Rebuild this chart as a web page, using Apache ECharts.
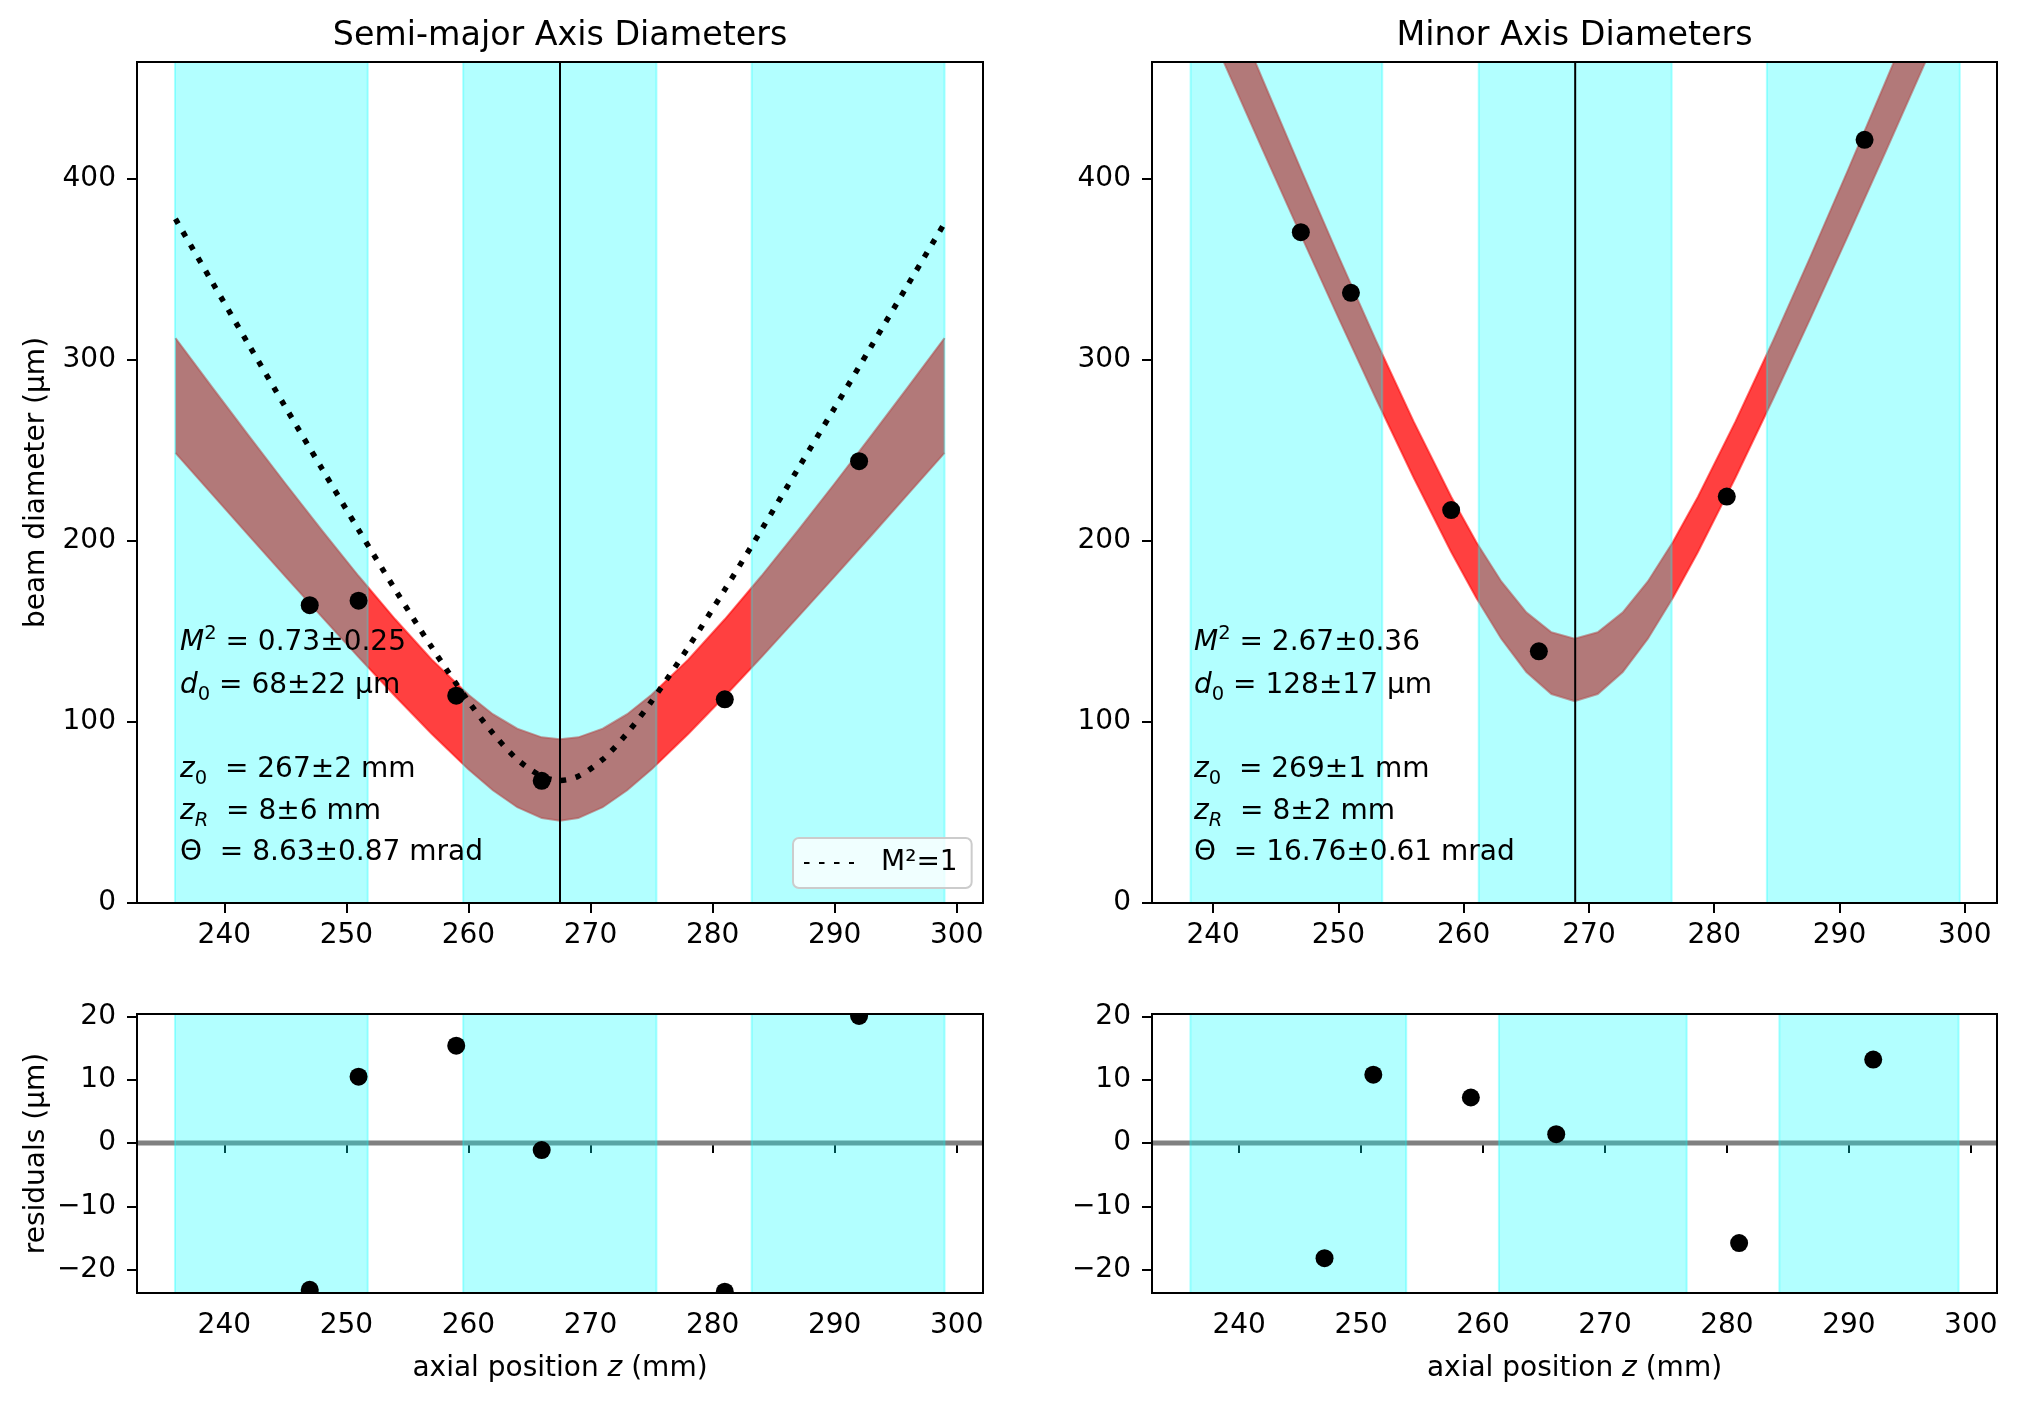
<!DOCTYPE html>
<html>
<head>
<meta charset="utf-8">
<script src="https://cdn.jsdelivr.net/npm/echarts@6/dist/echarts.min.js"></script>
<style>
  html, body { margin: 0; padding: 0; background: #fff; }
  #main { width: 2020px; height: 1405px; }
</style>
</head>
<body>
<div id="main"></div>
<script>
var FONT = 'DejaVu Sans';
var FS = 28;

// measured points: axial position (mm) and beam diameters (µm)
var zMeas = [247, 251, 259, 266, 281, 292];
var dMajor = [164.5, 167, 114.5, 67.5, 112.5, 244];
var dMinor = [370.5, 337, 217, 139, 224.5, 421.5];
var residMajor = [-23.2, 10.5, 15.4, -1.1, -23.5, 20.1];
var residMinor = [-18.2, 10.8, 7.2, 1.4, -15.8, 13.2];

// fitted band (lower / upper edge)
var zFitMajor = [236, 239, 242, 245, 248, 251, 254, 257, 260, 262, 264, 266, 267.5, 269, 271, 273, 275, 278, 281, 284, 287, 290, 293, 296, 299];
var fitMajorHi = [312.0, 284.9, 258.1, 231.7, 205.8, 180.6, 156.7, 134.4, 115.0, 104.3, 96.3, 91.5, 90.4, 91.5, 96.3, 104.3, 115.0, 134.4, 156.7, 180.6, 205.8, 231.7, 258.1, 284.9, 312.0];
var fitMajorLo = [248.6, 225.8, 203.0, 180.4, 158.0, 135.8, 114.2, 93.3, 73.8, 62.3, 52.9, 46.9, 45.4, 46.9, 52.9, 62.3, 73.8, 93.3, 114.2, 135.8, 158.0, 180.4, 203.0, 225.8, 248.6];
var idealMajor = [377.8, 343.0, 308.4, 274.0, 239.9, 206.1, 173.1, 141.2, 111.4, 93.8, 79.3, 70.0, 67.7, 70.0, 79.3, 93.8, 111.4, 141.2, 173.1, 206.1, 239.9, 273.5, 307.5, 341.5, 375.5];

var zFitMinor = [238, 241, 244, 247, 250, 253, 256, 259, 261, 263, 265, 267, 268.85, 270.7, 272.7, 274.7, 276.7, 278.7, 281.7, 284.7, 287.7, 290.7, 293.7, 296.7, 299.7];
var fitMinorHi = [553.3, 503.4, 454.0, 405.2, 357.3, 310.6, 266.0, 224.4, 199.4, 177.6, 160.5, 149.5, 146.0, 149.5, 160.5, 177.6, 199.4, 224.4, 266.0, 310.6, 357.3, 405.2, 454.0, 503.4, 553.3];
var fitMinorLo = [509.1, 462.1, 415.3, 369.0, 323.3, 278.5, 235.0, 193.9, 168.6, 146.0, 127.6, 115.4, 111.5, 115.4, 127.6, 146.0, 168.6, 193.9, 235.0, 278.5, 323.3, 369.0, 415.3, 462.1, 509.1];

// beam waist positions and Rayleigh zones (mm)
var z0Major = 267.5;
var z0Minor = 268.9;
var zonesMajor = [[235.96, 251.75], [259.57, 275.4], [283.2, 299.0]];
var zonesMinor = [[238.2, 253.5], [261.2, 276.6], [284.2, 299.6]];
var zonesResidMajor = [[235.96, 251.75], [259.57, 275.4], [283.2, 299.0]];
var zonesResidMinor = [[236.0, 253.7], [261.3, 276.7], [284.3, 299.0]];

// ticks
var zTicks = [240, 250, 260, 270, 280, 290, 300];
var dTicks = [0, 100, 200, 300, 400];
var rTicks = [-20, -10, 0, 10, 20];

var statsMajor = ['{i|M}{sup|2} = 0.73±0.25', '{i|d}{sub|0} = 68±22 µm', '{i|z}{sub|0}  = 267±2 mm', '{i|z}{subi|R}  = 8±6 mm', 'Θ  = 8.63±0.87 mrad'];
var statsMinor = ['{i|M}{sup|2} = 2.67±0.36', '{i|d}{sub|0} = 128±17 µm', '{i|z}{sub|0}  = 269±1 mm', '{i|z}{subi|R}  = 8±2 mm', 'Θ  = 16.76±0.61 mrad'];

// layout
var grids = [
  { left: 137, top: 62, width: 846, height: 841 },
  { left: 1152, top: 62, width: 845, height: 841 },
  { left: 137, top: 1014, width: 846, height: 279 },
  { left: 1152, top: 1014, width: 845, height: 279 }
];
var xRanges = [[232.85, 302.15], [235.12, 302.57], [232.85, 302.15], [232.85, 302.15]];
var dRange = [0, 464.5];
var rRange = [-23.7, 20.4];

function minus(v) { return String(v).replace('-', '\u2212'); }

function xAxisOpt(i, named) {
  var ax = {
    gridIndex: i, type: 'value', min: xRanges[i][0], max: xRanges[i][1],
    axisLine: { show: false },
    splitLine: { show: false },
    axisTick: { show: true, inside: false, length: 10, lineStyle: { color: '#000', width: 2 }, customValues: zTicks },
    axisLabel: { customValues: zTicks, fontSize: FS, fontFamily: FONT, color: '#000', margin: 19 }
  };
  if (named) {
    ax.name = 'axial position {i|z} (mm)';
    ax.nameLocation = 'middle';
    ax.nameGap = 62;
    ax.nameTextStyle = { fontSize: FS, fontFamily: FONT, color: '#000',
      rich: { i: { fontSize: FS, fontFamily: FONT, fontStyle: 'italic', color: '#000' } } };
  }
  return ax;
}

function yAxisOpt(i, ticks, range, name) {
  var ax = {
    gridIndex: i, type: 'value', min: range[0], max: range[1],
    axisLine: { show: false },
    splitLine: { show: false },
    axisTick: { show: true, inside: false, length: 10, lineStyle: { color: '#000', width: 2 }, customValues: ticks },
    axisLabel: { customValues: ticks, fontSize: FS, fontFamily: FONT, color: '#000', margin: 21, formatter: minus }
  };
  if (name) {
    ax.name = name;
    ax.nameLocation = 'middle';
    ax.nameGap = 86;
    ax.nameTextStyle = { fontSize: FS, fontFamily: FONT, color: '#000' };
  }
  return ax;
}

// fit uncertainty band drawn as one polygon through the axis scales
function bandSeries(i, zs, lo, hi) {
  return {
    type: 'custom', xAxisIndex: i, yAxisIndex: i, z: 2, silent: true, clip: true,
    data: [[zs[0], lo[0]]],
    renderItem: function (params, api) {
      var loPts = zs.map(function (z, k) { return api.coord([z, lo[k]]); });
      var hiPts = zs.map(function (z, k) { return api.coord([z, hi[k]]); });
      var edge = { fill: 'none', stroke: 'rgba(255,0,0,0.55)', lineWidth: 2 };
      return { type: 'group', children: [
        { type: 'polygon', shape: { points: loPts.concat(hiPts.slice().reverse()) },
          style: { fill: 'rgba(255,0,0,0.75)' } },
        { type: 'polyline', shape: { points: loPts }, style: edge },
        { type: 'polyline', shape: { points: hiPts }, style: edge }
      ] };
    }
  };
}

function zoneSeries(i, zones) {
  return {
    type: 'custom', xAxisIndex: i, yAxisIndex: i, z: 3, silent: true,
    data: zones,
    renderItem: function (params, api) {
      var cs = params.coordSys;
      var x1 = api.coord([api.value(0), 0])[0];
      var x2 = api.coord([api.value(1), 0])[0];
      return { type: 'rect',
        shape: { x: x1, y: cs.y, width: x2 - x1, height: cs.height },
        style: { fill: 'rgba(0,255,255,0.3)', stroke: 'rgba(0,255,255,0.3)', lineWidth: 2 } };
    }
  };
}

function vLine(i, z0) {
  return { type: 'line', xAxisIndex: i, yAxisIndex: i, z: 5, silent: true, symbol: 'none',
    lineStyle: { color: '#000', width: 2 }, data: [[z0, dRange[0]], [z0, dRange[1]]] };
}

function points(i, ys) {
  return { type: 'scatter', xAxisIndex: i, yAxisIndex: i, z: 6, symbolSize: 18,
    itemStyle: { color: '#000', opacity: 1 }, data: zMeas.map(function (z, k) { return [z, ys[k]]; }) };
}

function residPoints(i, ys) {
  return {
    type: 'custom', xAxisIndex: i, yAxisIndex: i, z: 6, clip: true,
    data: zMeas.map(function (z, k) { return [z, ys[k]]; }),
    renderItem: function (params, api) {
      var cs = params.coordSys;
      var p = api.coord([api.value(0), api.value(1)]);
      return { type: 'circle', shape: { cx: p[0], cy: p[1], r: 9 }, style: { fill: '#000' },
        clipPath: { type: 'rect', shape: { x: cs.x, y: cs.y, width: cs.width, height: cs.height } } };
    }
  };
}

function zeroLine(i) {
  return { type: 'line', xAxisIndex: i, yAxisIndex: i, z: 2, silent: true, symbol: 'none',
    lineStyle: { color: '#808080', width: 5 }, data: [[xRanges[i][0], 0], [xRanges[i][1], 0]] };
}

var rich = {
  i: { fontSize: FS, fontFamily: FONT, fontStyle: 'italic', lineHeight: 38 },
  sup: { fontSize: 19.5, fontFamily: FONT, verticalAlign: 'top', lineHeight: 19 },
  sub: { fontSize: 19.5, fontFamily: FONT, verticalAlign: 'bottom', lineHeight: 19 },
  subi: { fontSize: 19.5, fontFamily: FONT, fontStyle: 'italic', verticalAlign: 'bottom', lineHeight: 19 }
};

var statY = [642.5, 685.5, 769.5, 811.5, 852.5];
var graphics = [];
grids.forEach(function (g) {
  graphics.push({ type: 'rect', z: 100, silent: true,
    shape: { x: g.left, y: g.top, width: g.width, height: g.height },
    style: { fill: 'none', stroke: '#000', lineWidth: 2 } });
});
[[statsMajor, 180], [statsMinor, 1194]].forEach(function (s) {
  s[0].forEach(function (t, k) {
    graphics.push({ type: 'text', z: 100, x: s[1], y: statY[k], silent: true,
      style: { text: t, fontSize: FS, fontFamily: FONT, fill: '#000', lineHeight: 38,
        align: 'left', verticalAlign: 'middle', rich: rich } });
  });
});
graphics.push({ type: 'text', x: grids[0].left + grids[0].width / 2, y: 36,
  style: { text: 'Semi-major Axis Diameters', fontSize: 33.3, fontFamily: FONT, fill: '#000', align: 'center', verticalAlign: 'middle' } });
graphics.push({ type: 'text', x: grids[1].left + grids[1].width / 2, y: 36,
  style: { text: 'Minor Axis Diameters', fontSize: 33.3, fontFamily: FONT, fill: '#000', align: 'center', verticalAlign: 'middle' } });

var series = [
  bandSeries(0, zFitMajor, fitMajorLo, fitMajorHi),
  zoneSeries(0, zonesMajor),
  { name: 'M²=1', type: 'line', xAxisIndex: 0, yAxisIndex: 0, z: 4, symbol: 'none', smooth: 0.3,
    itemStyle: { color: '#000' },
    lineStyle: { color: '#000', width: 5.5, type: [5.5, 9.5], cap: 'butt' },
    data: zFitMajor.map(function (z, k) { return [z, idealMajor[k]]; }) },
  vLine(0, z0Major),
  points(0, dMajor),
  bandSeries(1, zFitMinor, fitMinorLo, fitMinorHi),
  zoneSeries(1, zonesMinor),
  vLine(1, z0Minor),
  points(1, dMinor),
  zeroLine(2),
  zoneSeries(2, zonesResidMajor),
  residPoints(2, residMajor),
  zeroLine(3),
  zoneSeries(3, zonesResidMinor),
  residPoints(3, residMinor)
];

var myChart = echarts.init(document.getElementById('main'));
var option = {
  animation: false,
  backgroundColor: '#fff',
  grid: grids,
  xAxis: [xAxisOpt(0, false), xAxisOpt(1, false), xAxisOpt(2, true), xAxisOpt(3, true)],
  yAxis: [
    yAxisOpt(0, dTicks, dRange, 'beam diameter (µm)'),
    yAxisOpt(1, dTicks, dRange, null),
    yAxisOpt(2, rTicks, rRange, 'residuals (µm)'),
    yAxisOpt(3, rTicks, rRange, null)
  ],
  legend: {
    left: 793, top: 838, data: ['M²=1'],
    padding: [11, 14, 11, 10],
    itemWidth: 50, itemHeight: 20,
    itemStyle: { opacity: 0 },
    backgroundColor: 'rgba(255,255,255,0.8)',
    borderColor: '#cccccc', borderWidth: 2, borderRadius: 6,
    textStyle: { fontSize: FS, fontFamily: FONT, color: '#000', padding: [0, 0, 0, 22] },
    selectedMode: false
  },
  graphic: { elements: graphics },
  series: series
};
myChart.setOption(option);
</script>
</body>
</html>
